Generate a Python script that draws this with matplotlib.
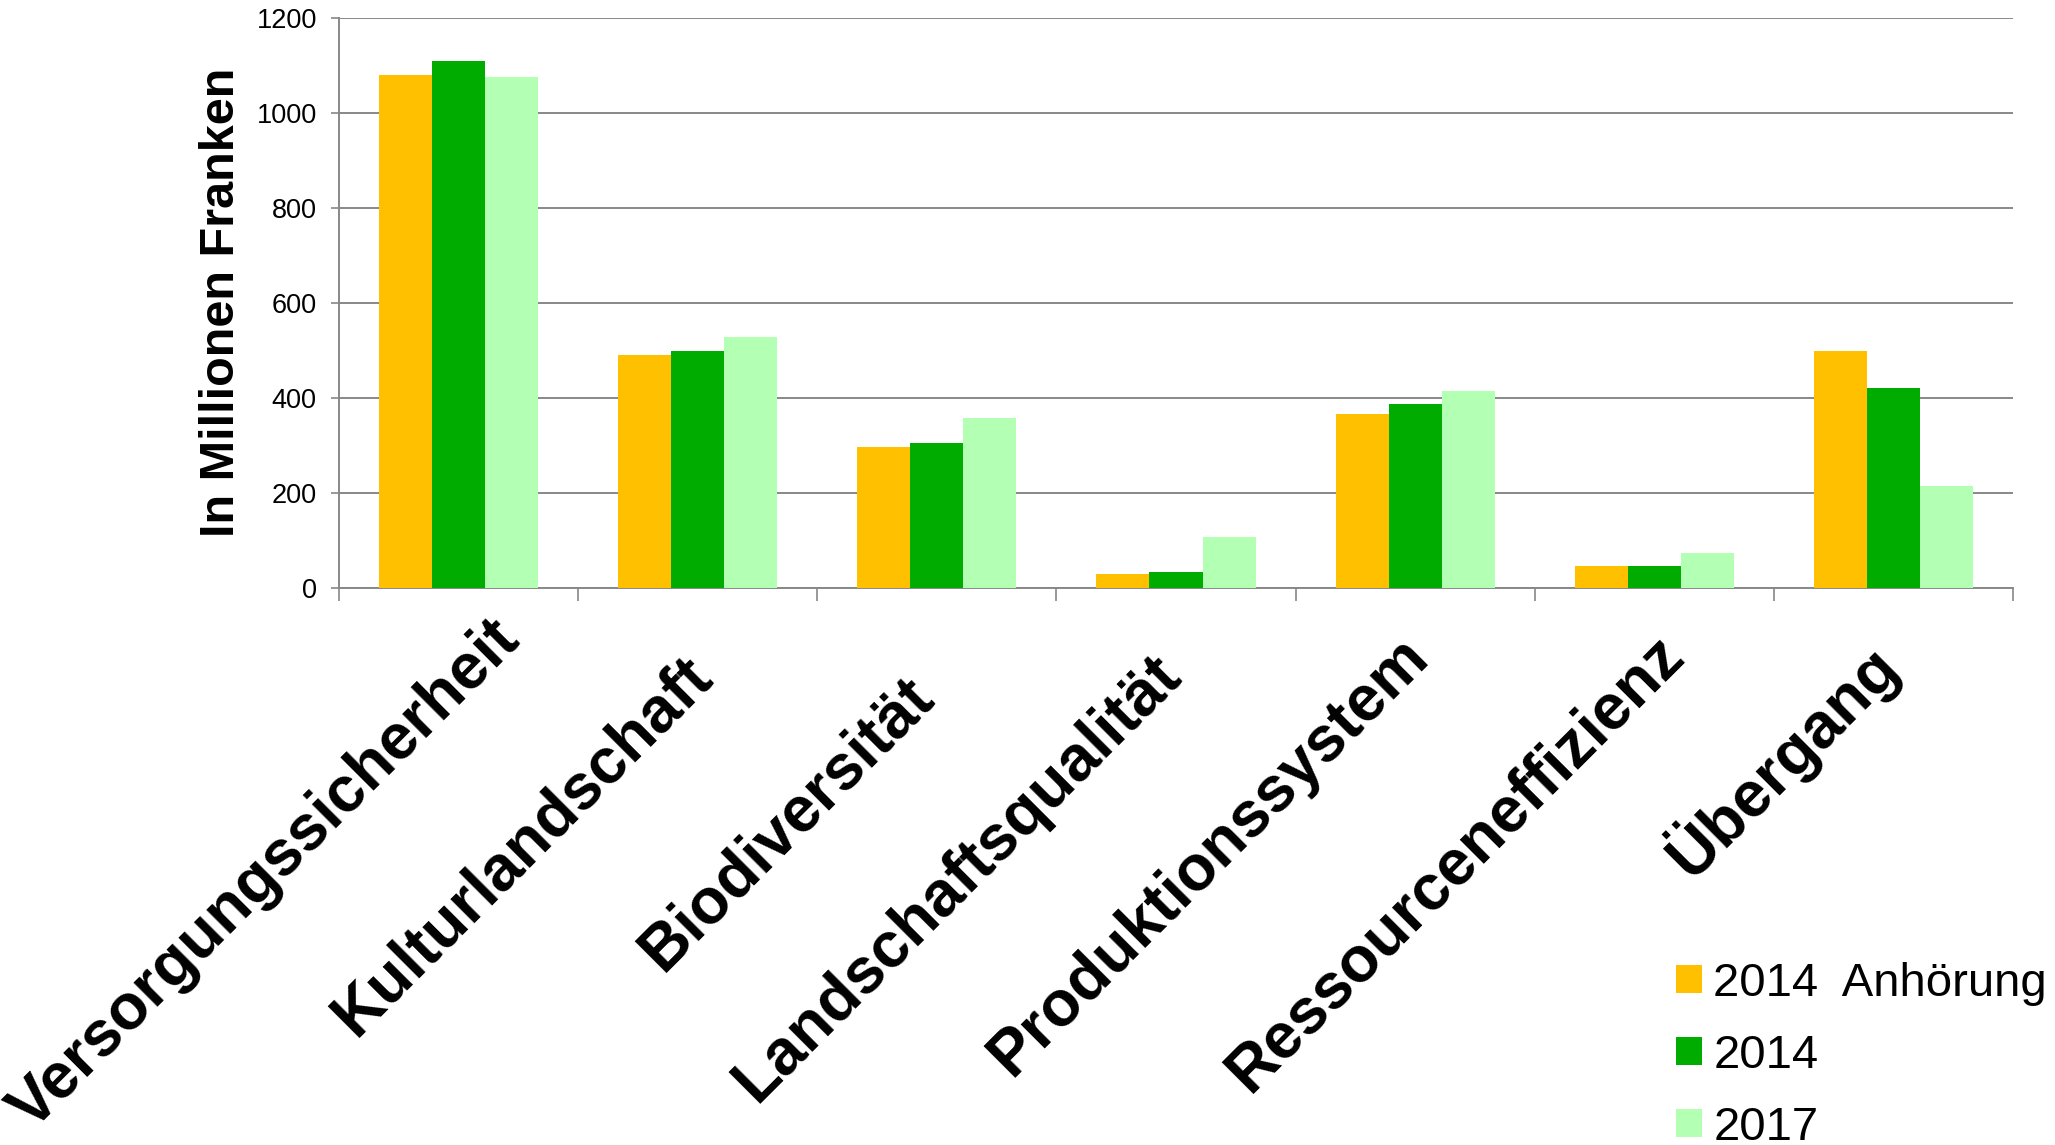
import matplotlib
matplotlib.use('Agg')
import matplotlib.pyplot as plt
import numpy as np
from matplotlib.transforms import offset_copy
from matplotlib.patches import Patch

categories = ['Versorgungssicherheit', 'Kulturlandschaft', 'Biodiversität',
              'Landschaftsqualität', 'Produktionssystem', 'Ressourceneffizienz',
              'Übergang']
series_names = ['2014  Anhörung', '2014', '2017']
anhoerung_2014 = [1080, 490, 296, 29, 366, 47, 498]
werte_2014 = [1109, 500, 306, 33, 387, 47, 422]
werte_2017 = [1076, 528, 358, 108, 414, 74, 215]
colors = ['#FFC000', '#00AC00', '#B3FFB3']
yticks = [0, 200, 400, 600, 800, 1000, 1200]

# where the right end of each rotated label sits, in px from the category centre / axis
label_nudge = [(63, 54), (17, 91), (-1, 111), (7, 89), (16, 71), (32, 69), (8, 82)]

plt.rcParams['font.family'] = ['Liberation Sans', 'DejaVu Sans']

W, H = 2055, 1145
fig = plt.figure(figsize=(W / 100, H / 100), dpi=100)
ax = fig.add_axes([339 / W, 1 - 588 / H, 1674 / W, 570 / H])

x = np.arange(len(categories))
bw = 0.222
for k, vals in enumerate([anhoerung_2014, werte_2014, werte_2017]):
    ax.bar(x + (k - 1) * bw, vals, bw, color=colors[k], zorder=3, linewidth=0)

ax.set_xlim(-0.5, len(categories) - 0.5)
ax.set_ylim(0, 1200)
ax.set_yticks(yticks)
ax.set_yticklabels([str(v) for v in yticks], fontsize=19.5)
ax.set_xticks(np.arange(len(categories) + 1) - 0.5)
ax.set_xticklabels([])

grid_col = '#888888'
ax.grid(axis='y', color=grid_col, linewidth=1.4, zorder=0)
for s in ['top', 'right']:
    ax.spines[s].set_visible(False)
for s in ['left', 'bottom']:
    ax.spines[s].set_color(grid_col)
    ax.spines[s].set_linewidth(1.4)
ax.tick_params(axis='y', direction='out', length=6, width=1.2, color=grid_col, pad=10)
ax.tick_params(axis='x', direction='out', length=9, width=1.2, color=grid_col)

# rotated category labels
for i, name in enumerate(categories):
    dx, dy = label_nudge[i]
    ax.text(i, 0, name,
            transform=offset_copy(ax.get_xaxis_transform(), fig=fig, x=dx, y=-dy, units='dots'),
            rotation=45, rotation_mode='anchor', ha='right', va='baseline',
            fontsize=46, fontweight='bold')

fig.text(222 / W, 1 - 302 / H, 'In Millionen Franken', rotation=90,
         ha='center', va='center', fontsize=35, fontweight='bold')

handles = [Patch(facecolor=c, edgecolor='none') for c in colors]
ax.legend(handles, series_names, loc='upper left',
          bbox_to_anchor=(1676 / W, 1 - 962 / H), bbox_transform=fig.transFigure,
          frameon=False, fontsize=34, handlelength=0.55, handleheight=0.53,
          handletextpad=0.24, labelspacing=0.59, borderpad=0, borderaxespad=0)

fig.savefig('out.png', dpi=100, facecolor='white')
